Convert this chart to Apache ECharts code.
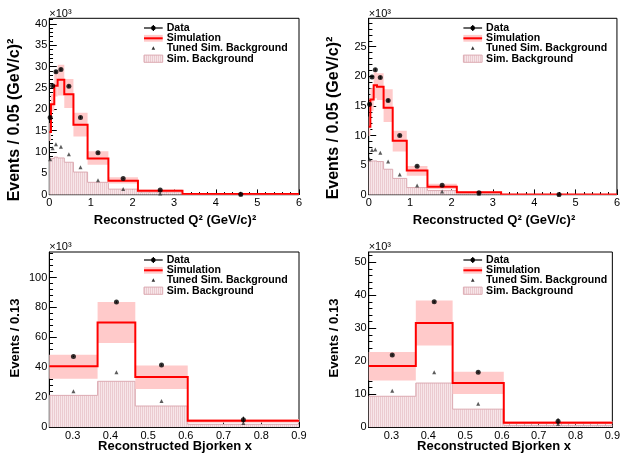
<!DOCTYPE html>
<html><head><meta charset="utf-8">
<script src="https://cdn.jsdelivr.net/npm/echarts@6/dist/echarts.min.js"></script>
<style>html,body{margin:0;padding:0;background:#fff}#c{width:623px;height:458px}</style>
</head><body><div id="c"></div>
<script>
const FONT = '"Liberation Sans", Arial, Helvetica, sans-serif';

// ---- Top panels: reconstructed Q^2 (values in units of 10^3 events) ----
const q2Edges = [0, 0.04, 0.12, 0.2, 0.36, 0.58, 0.92, 1.42, 2.13, 3.2, 6];
const q2XTicks = [0, 1, 2, 3, 4, 5, 6];
const q2YTicksL = [0, 5, 10, 15, 20, 25, 30, 35, 40];
const q2YTicksR = [0, 5, 10, 15, 20, 25];

const dataQ2L   = [18.1, 25.5, 28.8, 29.3, 25.4, 18.1, 9.8, 3.8, 1.1, 0.08];
const dataErrQ2L= [0.3, 0.3, 0.3, 0.3, 0.3, 0.25, 0.2, 0.12, 0.07, 0.02];
const simQ2L    = [14.7, 21.2, 25.5, 26.9, 23.5, 16.4, 8.5, 3.25, 0.9, 0.15];
const simLoQ2L  = [12.6, 19.5, 23.0, 23.2, 20.3, 13.6, 7.0, 2.6, 0.55, 0.05];
const simHiQ2L  = [16.8, 23.5, 29.0, 30.4, 27.1, 19.2, 10.2, 4.1, 1.2, 0.25];
const tunedQ2L  = [8.3, 10.9, 11.8, 11.25, 9.45, 6.4, 3.4, 1.35, 0.3, 0.06];
const bgQ2L     = [8.0, 8.5, 8.8, 8.6, 7.6, 5.3, 2.9, 1.3, 0.6, 0.1];

const dataQ2R   = [15.3, 19.9, 21.1, 19.8, 15.9, 10.0, 4.8, 1.6, 0.35, 0.02];
const dataErrQ2R= [0.25, 0.25, 0.25, 0.25, 0.25, 0.2, 0.15, 0.08, 0.04, 0.01];
const simQ2R    = [11.5, 16.1, 18.5, 18.25, 14.7, 9.1, 4.1, 1.35, 0.4, 0.05];
const simLoQ2R  = [9.9, 14.2, 16.3, 16.0, 12.3, 7.3, 3.2, 0.95, 0.15, 0.01];
const simHiQ2R  = [13.2, 18.0, 20.7, 20.5, 17.8, 10.8, 4.85, 1.85, 0.55, 0.1];
const tunedQ2R  = [6.0, 7.55, 7.65, 7.1, 5.6, 3.4, 1.55, 0.55, 0.15, 0.02];
const bgQ2R     = [5.6, 5.7, 5.7, 5.6, 4.3, 2.75, 1.2, 0.7, 0.25, 0.03];

// ---- Bottom panels: reconstructed Bjorken x ----
const xbEdges = [0.238, 0.366, 0.466, 0.605, 0.9];
const xbXTicks = [0.3, 0.4, 0.5, 0.6, 0.7, 0.8, 0.9];
const xbYTicksL = [0, 20, 40, 60, 80, 100];
const xbYTicksR = [0, 10, 20, 30, 40, 50];

const dataXbL   = [47.3, 83.6, 41.6, 5.1];
const dataErrXbL= [0.4, 0.5, 0.4, 2.0];
const simXbL    = [40.7, 70.0, 33.6, 4.4];
const simLoXbL  = [32.4, 56.2, 25.6, 3.0];
const simHiXbL  = [48.4, 83.6, 41.3, 5.6];
const tunedXbL  = [24.0, 36.7, 17.6, 2.9];
const bgXbL     = [21.3, 30.7, 14.2, 2.0];

const dataXbR   = [21.9, 38.0, 16.7, 1.8];
const dataErrXbR= [0.2, 0.3, 0.2, 0.9];
const simXbR    = [18.6, 31.6, 13.4, 1.4];
const simLoXbR  = [14.2, 24.8, 10.1, 0.9];
const simHiXbR  = [22.8, 38.4, 16.8, 1.9];
const tunedXbR  = [11.1, 16.7, 7.1, 1.0];
const bgXbR     = [9.4, 13.4, 5.5, 0.6];

const legendLabels = ['Data', 'Simulation', 'Tuned Sim. Background', 'Sim. Background'];

// hatch pattern for Sim. Background
const hatch = document.createElement('canvas');
hatch.width = 2; hatch.height = 2;
const hc = hatch.getContext('2d');
hc.fillStyle = '#f7e6e9'; hc.fillRect(0, 0, 2, 2);
hc.fillStyle = '#ebcbd0'; hc.fillRect(0, 0, 1, 2);
const hatchFill = { image: hatch, repeat: 'repeat' };

const BAND = '#ffcaca';
const RED = '#ff0000';

function range(a, b, s) {
  const out = [];
  for (let v = a; v <= b + 1e-9; v += s) out.push(Math.round(v * 1000) / 1000);
  return out;
}
function centers(edges) { return edges.slice(0, -1).map((e, i) => (e + edges[i + 1]) / 2); }

const panels = [
  { grid: { left: 49.3, top: 18.3, width: 249.7, height: 176.4 }, edges: q2Edges,
    xMin: 0, xMax: 6, xTicks: q2XTicks, xMinor: range(0, 6, 0.2), xFmt: v => String(v),
    yMax: 41.3, yTicks: q2YTicksL, yMinor: range(0, 41, 1),
    data: dataQ2L, err: dataErrQ2L, sim: simQ2L, lo: simLoQ2L, hi: simHiQ2L, tuned: tunedQ2L, bg: bgQ2L },
  { grid: { left: 368.7, top: 18.3, width: 249.6, height: 176.4 }, edges: q2Edges,
    xMin: 0, xMax: 6, xTicks: q2XTicks, xMinor: range(0, 6, 0.2), xFmt: v => String(v),
    yMax: 29.8, yTicks: q2YTicksR, yMinor: range(0, 29, 1),
    data: dataQ2R, err: dataErrQ2R, sim: simQ2R, lo: simLoQ2R, hi: simHiQ2R, tuned: tunedQ2R, bg: bgQ2R },
  { grid: { left: 49.3, top: 252, width: 249.7, height: 175.3 }, edges: xbEdges,
    xMin: 0.238, xMax: 0.9, xTicks: xbXTicks, xMinor: range(0.24, 0.9, 0.02), xFmt: v => v.toFixed(1),
    yMax: 117, yTicks: xbYTicksL, yMinor: range(0, 116, 4),
    data: dataXbL, err: dataErrXbL, sim: simXbL, lo: simLoXbL, hi: simHiXbL, tuned: tunedXbL, bg: bgXbL },
  { grid: { left: 368.7, top: 252, width: 249.6, height: 175.3 }, edges: xbEdges,
    xMin: 0.238, xMax: 0.9, xTicks: xbXTicks, xMinor: range(0.24, 0.9, 0.02), xFmt: v => v.toFixed(1),
    yMax: 53.1, yTicks: xbYTicksR, yMinor: range(0, 52, 2),
    data: dataXbR, err: dataErrXbR, sim: simXbR, lo: simLoXbR, hi: simHiXbR, tuned: tunedXbR, bg: bgXbR }
];

const grids = [], xAxes = [], yAxes = [], series = [];
const labelStyle = { color: '#000', fontSize: 11, fontFamily: FONT };

function stepPts(edges, vals, close) {
  const pts = [];
  if (close) pts.push([edges[0], 0]);
  vals.forEach((v, i) => { pts.push([edges[i], v]); pts.push([edges[i + 1], v]); });
  if (close) pts.push([edges[edges.length - 1], 0]);
  return pts;
}

panels.forEach((p, g) => {
  grids.push(Object.assign({ show: true, borderColor: '#000', borderWidth: 1, backgroundColor: 'transparent', containLabel: false }, p.grid));
  const xTickLen = 0.03 * p.grid.height, yTickLen = 0.03 * p.grid.width;
  xAxes.push({
    type: 'value', gridIndex: g, position: 'bottom', min: p.xMin, max: p.xMax,
    axisLine: { show: true, onZero: false, lineStyle: { color: '#000', width: 1 } },
    axisTick: { show: true, inside: true, length: xTickLen, customValues: p.xTicks, lineStyle: { color: '#000' } },
    axisLabel: { show: true, customValues: p.xTicks, margin: 3, formatter: p.xFmt, ...labelStyle },
    splitLine: { show: false }
  });
  xAxes.push({
    type: 'value', gridIndex: g, position: 'bottom', min: p.xMin, max: p.xMax,
    axisLine: { show: false },
    axisTick: { show: true, inside: true, length: xTickLen / 2, customValues: p.xMinor, lineStyle: { color: '#000' } },
    axisLabel: { show: false }, splitLine: { show: false }
  });
  yAxes.push({
    type: 'value', gridIndex: g, position: 'left', min: 0, max: p.yMax,
    axisLine: { show: true, onZero: false, lineStyle: { color: '#000', width: 1 } },
    axisTick: { show: true, inside: true, length: yTickLen, customValues: p.yTicks, lineStyle: { color: '#000' } },
    axisLabel: { show: true, customValues: p.yTicks, margin: 2, formatter: v => String(v), ...labelStyle },
    splitLine: { show: false }
  });
  yAxes.push({
    type: 'value', gridIndex: g, position: 'left', min: 0, max: p.yMax,
    axisLine: { show: false },
    axisTick: { show: true, inside: true, length: yTickLen / 2, customValues: p.yMinor, lineStyle: { color: '#000' } },
    axisLabel: { show: false }, splitLine: { show: false }
  });

  const ax = { xAxisIndex: 2 * g, yAxisIndex: 2 * g };
  const base = Object.assign({ type: 'custom', clip: true, silent: true, animation: false, data: [[p.edges[0], 0]] }, ax);
  const ctr = centers(p.edges);

  // Sim. Background (hatched)
  series.push(Object.assign({}, base, {
    renderItem: (params, api) => ({
      type: 'group', children: [
        { type: 'polygon', shape: { points: stepPts(p.edges, p.bg, true).map(q => api.coord(q)) }, style: { fill: hatchFill } },
        { type: 'polyline', shape: { points: stepPts(p.edges, p.bg, false).map(q => api.coord(q)) }, style: { stroke: '#dcaab2', lineWidth: 1, fill: null } }
      ]
    })
  }));
  // Simulation uncertainty band
  series.push(Object.assign({}, base, {
    renderItem: (params, api) => ({
      type: 'group', children: p.lo.map((lo, i) => {
        const a = api.coord([p.edges[i], p.hi[i]]), b = api.coord([p.edges[i + 1], lo]);
        return { type: 'rect', shape: { x: a[0], y: a[1], width: b[0] - a[0], height: b[1] - a[1] }, style: { fill: BAND } };
      })
    })
  }));
  // Simulation step line
  series.push(Object.assign({}, base, {
    renderItem: (params, api) => ({
      type: 'polyline', shape: { points: stepPts(p.edges, p.sim, false).map(q => api.coord(q)) },
      style: { stroke: RED, lineWidth: 2, fill: null }
    })
  }));
  // Tuned Sim. Background (triangles)
  series.push(Object.assign({
    type: 'scatter', silent: true, animation: false, symbol: 'triangle', symbolSize: 4,
    itemStyle: { color: '#333' }, data: ctr.map((c, i) => [c, p.tuned[i]])
  }, ax));
  // Data error bars
  series.push(Object.assign({}, base, {
    renderItem: (params, api) => ({
      type: 'group', children: p.data.map((v, i) => {
        const a = api.coord([ctr[i], v + p.err[i]]), b = api.coord([ctr[i], v - p.err[i]]);
        return { type: 'line', shape: { x1: a[0], y1: a[1], x2: b[0], y2: b[1] }, style: { stroke: '#000', lineWidth: 1 } };
      })
    })
  }));
  // Data points
  series.push(Object.assign({
    type: 'scatter', silent: true, animation: false, symbol: 'circle', symbolSize: 5,
    itemStyle: { color: '#000' }, data: ctr.map((c, i) => [c, p.data[i]])
  }, ax));
});

// ---- text & legends (graphic) ----
const graphic = [];
const offsets = [[0, 0], [319.4, 0], [0, 232], [319.4, 232]];
const xTitles = ['Reconstructed Q² (GeV/c)²', 'Reconstructed Q² (GeV/c)²', 'Reconstructed Bjorken x', 'Reconstructed Bjorken x'];
const yTitles = ['Events / 0.05 (GeV/c)²', 'Events / 0.05 (GeV/c)²', 'Events / 0.13', 'Events / 0.13'];
const yTitleSize = [16, 16, 13, 13];
const xTitlePos = [[175, 220], [494, 220], [175, 446], [494, 446]];
const yTitlePos = [[15, 120], [334, 118], [15, 338], [334, 338]];
const expPos = [[49.3, 19], [368.7, 19], [49.3, 252.5], [368.7, 252.5]];

offsets.forEach(([dx, dy], g) => {
  graphic.push({ type: 'text', x: xTitlePos[g][0], y: xTitlePos[g][1], silent: true,
    style: { text: xTitles[g], font: 'bold 13px ' + FONT, fill: '#000', align: 'center', verticalAlign: 'middle' } });
  graphic.push({ type: 'text', x: yTitlePos[g][0], y: yTitlePos[g][1], rotation: Math.PI / 2, silent: true,
    style: { text: yTitles[g], font: 'bold ' + yTitleSize[g] + 'px ' + FONT, fill: '#000', align: 'center', verticalAlign: 'middle' } });
  graphic.push({ type: 'text', x: expPos[g][0], y: expPos[g][1], silent: true,
    style: { text: '×10³', font: '11px ' + FONT, fill: '#000', align: 'left', verticalAlign: 'bottom' } });

  const sx = 144 + dx, sw = 18.7, mx = sx + sw / 2, tx = 166.7 + dx;
  const rows = [28 + dy, 38.3 + dy, 48.3 + dy, 58.7 + dy];
  // Data symbol
  graphic.push({ type: 'line', silent: true, shape: { x1: sx, y1: rows[0], x2: sx + sw, y2: rows[0] }, style: { stroke: '#000', lineWidth: 1.2 } });
  graphic.push({ type: 'line', silent: true, shape: { x1: mx, y1: rows[0] - 3, x2: mx, y2: rows[0] + 3 }, style: { stroke: '#000', lineWidth: 1.2 } });
  graphic.push({ type: 'circle', silent: true, shape: { cx: mx, cy: rows[0], r: 2.3 }, style: { fill: '#000' } });
  // Simulation symbol
  graphic.push({ type: 'rect', silent: true, shape: { x: sx, y: rows[1] - 3.4, width: sw, height: 6.8 }, style: { fill: BAND } });
  graphic.push({ type: 'line', silent: true, shape: { x1: sx, y1: rows[1], x2: sx + sw, y2: rows[1] }, style: { stroke: RED, lineWidth: 2 } });
  // Tuned symbol
  graphic.push({ type: 'polygon', silent: true, shape: { points: [[mx, rows[2] - 2], [mx - 1.8, rows[2] + 1.5], [mx + 1.8, rows[2] + 1.5]] }, style: { fill: '#333' } });
  // Sim. Background symbol
  graphic.push({ type: 'rect', silent: true, shape: { x: sx, y: rows[3] - 3.6, width: sw, height: 7.2 }, style: { fill: hatchFill, stroke: '#dcaab2', lineWidth: 1 } });
  legendLabels.forEach((t, i) => {
    graphic.push({ type: 'text', silent: true, x: tx, y: rows[i],
      style: { text: t, font: 'bold 10.6px ' + FONT, fill: '#000', align: 'left', verticalAlign: 'middle' } });
  });
});

const chart = echarts.init(document.getElementById('c'), null, { renderer: 'canvas' });
chart.setOption({
  animation: false,
  backgroundColor: '#fff',
  grid: grids, xAxis: xAxes, yAxis: yAxes, series: series, graphic: graphic
});
</script>
</body></html>
